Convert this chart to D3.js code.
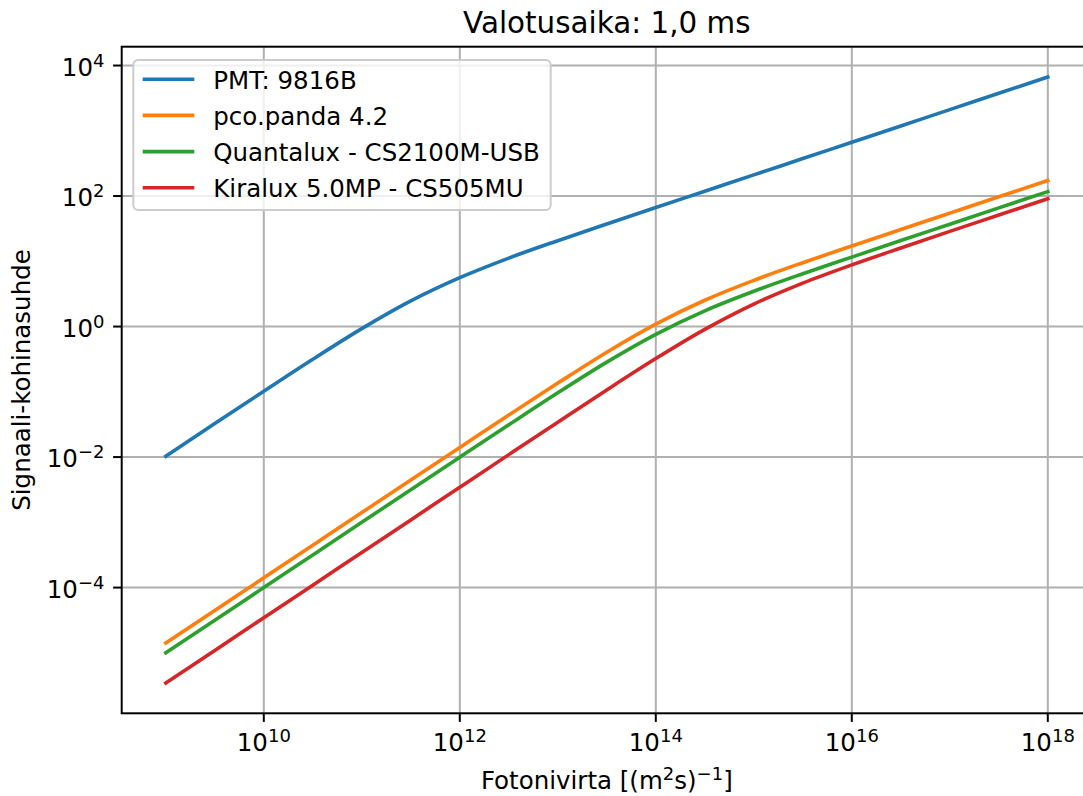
<!DOCTYPE html>
<html><head><meta charset="utf-8">
<script src="https://cdn.jsdelivr.net/npm/d3@7"></script>
<style>body{margin:0;background:#fff}svg{display:block}</style>
</head><body><svg id="c" width="1083" height="796"></svg>
<script>
// ---- data ----
const fluxExponents = [9, 9.5, 10, 10.5, 11, 11.5, 12, 12.5, 13, 13.5, 14, 14.5, 15, 15.5, 16, 16.5, 17, 17.5, 18];
const seriesNames = ["PMT: 9816B", "pco.panda 4.2", "Quantalux - CS2100M-USB", "Kiralux 5.0MP - CS505MU"];
const pmt       = [0.0103, 0.0326, 0.102, 0.315, 0.929, 2.47, 5.61, 11.2, 20.7, 37.3, 66.6, 118.5, 211, 375, 667, 1186, 2110, 3751, 6671];
const panda     = [1.41e-5, 4.45e-5, 1.41e-4, 4.45e-4, 1.41e-3, 4.45e-3, 0.0140, 0.0441, 0.136, 0.405, 1.09, 2.53, 5.11, 9.52, 17.2, 30.7, 54.7, 97.4, 173];
const quantalux = [1.0e-5, 3.16e-5, 1.0e-4, 3.16e-4, 9.99e-4, 3.16e-3, 9.96e-3, 0.0312, 0.0965, 0.285, 0.760, 1.74, 3.47, 6.44, 11.6, 20.8, 37.0, 65.8, 117];
const kiralux   = [3.45e-6, 1.09e-5, 3.45e-5, 1.09e-4, 3.45e-4, 1.09e-3, 3.45e-3, 0.0109, 0.0343, 0.107, 0.323, 0.905, 2.21, 4.63, 8.80, 16.0, 28.7, 51.1, 91.0];
const xTickExponents = [10, 12, 14, 16, 18];
const yTickExponents = [-4, -2, 0, 2, 4];
const titleText = "Valotusaika: 1,0 ms";
const yLabelText = "Signaali-kohinasuhde";

// ---- layout ----
const colors = ["#1f77b4", "#ff7f0e", "#2ca02c", "#d62728"];
const seriesValues = [pmt, panda, quantalux, kiralux];
const L = 121.7, T = 46.7, B = 713.3, R = 1091.9;
const FS = 24.5, SUP = 18;
const font = "DejaVu Sans, Liberation Sans, sans-serif";

const svg = d3.select("#c");
svg.append("rect").attr("width", 1083).attr("height", 796).attr("fill", "#fff");

const xs = fluxExponents.map(e => Math.pow(10, e));
const allY = seriesValues.flat();
const lx0 = Math.log10(d3.min(xs)), lx1 = Math.log10(d3.max(xs));
const ly0 = Math.log10(d3.min(allY)), ly1 = Math.log10(d3.max(allY));
const mx = (lx1 - lx0) * 0.05, my = (ly1 - ly0) * 0.05;
const x = d3.scaleLog().domain([Math.pow(10, lx0 - mx), Math.pow(10, lx1 + mx)]).range([L, R]);
const y = d3.scaleLog().domain([Math.pow(10, ly0 - my), Math.pow(10, ly1 + my)]).range([B, T]);

svg.append("clipPath").attr("id", "clip").append("rect")
  .attr("x", L).attr("y", T).attr("width", R - L).attr("height", B - T);

// grid
const g = svg.append("g");
g.selectAll(".gx").data(xTickExponents).enter().append("line")
  .attr("x1", d => x(Math.pow(10, d))).attr("x2", d => x(Math.pow(10, d)))
  .attr("y1", T).attr("y2", B).attr("stroke", "#b0b0b0").attr("stroke-width", 2);
g.selectAll(".gy").data(yTickExponents).enter().append("line")
  .attr("y1", d => y(Math.pow(10, d))).attr("y2", d => y(Math.pow(10, d)))
  .attr("x1", L).attr("x2", R).attr("stroke", "#b0b0b0").attr("stroke-width", 2);

// lines
const line = d3.line().x((d, i) => x(xs[i])).y(d => y(d)).curve(d3.curveMonotoneX);
svg.append("g").attr("clip-path", "url(#clip)").selectAll("path").data(seriesValues).enter().append("path")
  .attr("d", d => line(d)).attr("fill", "none").attr("stroke", (d, i) => colors[i])
  .attr("stroke-width", 3.6).attr("stroke-linecap", "square").attr("stroke-linejoin", "round");

// spines
svg.append("rect").attr("x", L).attr("y", T).attr("width", R - L).attr("height", B - T)
  .attr("fill", "none").attr("stroke", "#000").attr("stroke-width", 2);

// ticks
const tickLen = 8.6;
function expLabel(sel, e) {
  const s = (e < 0 ? "\u2212" : "") + Math.abs(e);
  sel.append("tspan").text("10");
  sel.append("tspan").attr("dy", -9).attr("font-size", SUP).text(s);
}
xTickExponents.forEach(e => {
  const px = x(Math.pow(10, e));
  svg.append("line").attr("x1", px).attr("x2", px).attr("y1", B).attr("y2", B + tickLen)
    .attr("stroke", "#000").attr("stroke-width", 2);
  const t = svg.append("text").attr("x", px).attr("y", 750.7).attr("text-anchor", "middle")
    .attr("font-family", font).attr("font-size", FS).attr("fill", "#000");
  expLabel(t, e);
});
yTickExponents.forEach(e => {
  const py = y(Math.pow(10, e));
  svg.append("line").attr("x1", L - tickLen).attr("x2", L).attr("y1", py).attr("y2", py)
    .attr("stroke", "#000").attr("stroke-width", 2);
  const t = svg.append("text").attr("x", L - tickLen - 8.6).attr("y", py + 10).attr("text-anchor", "end")
    .attr("font-family", font).attr("font-size", FS).attr("fill", "#000");
  expLabel(t, e);
});

// title
svg.append("text").attr("x", (L + R) / 2).attr("y", 33.3).attr("text-anchor", "middle")
  .attr("font-family", font).attr("font-size", 29.4).attr("fill", "#000").text(titleText);

// x label
const xl = svg.append("text").attr("x", (L + R) / 2).attr("y", 789).attr("text-anchor", "middle")
  .attr("font-family", font).attr("font-size", FS).attr("fill", "#000");
xl.append("tspan").text("Fotonivirta [(m");
xl.append("tspan").attr("dy", -9).attr("font-size", SUP).text("2");
xl.append("tspan").attr("dy", 9).text("s)");
xl.append("tspan").attr("dy", -9).attr("font-size", SUP).text("\u22121");
xl.append("tspan").attr("dy", 9).text("]");

// y label
svg.append("text").attr("transform", `translate(29.5,${(T + B) / 2}) rotate(-90)`)
  .attr("text-anchor", "middle").attr("font-family", font).attr("font-size", FS)
  .attr("fill", "#000").text(yLabelText);

// legend
const lg = svg.append("g");
lg.append("rect").attr("x", 133.3).attr("y", 60).attr("width", 417.4).attr("height", 150)
  .attr("rx", 5).attr("fill", "#fff").attr("fill-opacity", 0.8)
  .attr("stroke", "#cccccc").attr("stroke-width", 2);
seriesNames.forEach((n, i) => {
  const cy = 79.2 + i * 36.2;
  lg.append("line").attr("x1", 142.7).attr("x2", 194.3).attr("y1", cy).attr("y2", cy)
    .attr("stroke", colors[i]).attr("stroke-width", 3.6);
  lg.append("text").attr("x", 213.3).attr("y", cy + 9.5).attr("font-family", font)
    .attr("font-size", FS).attr("fill", "#000").text(n);
});
</script></body></html>
